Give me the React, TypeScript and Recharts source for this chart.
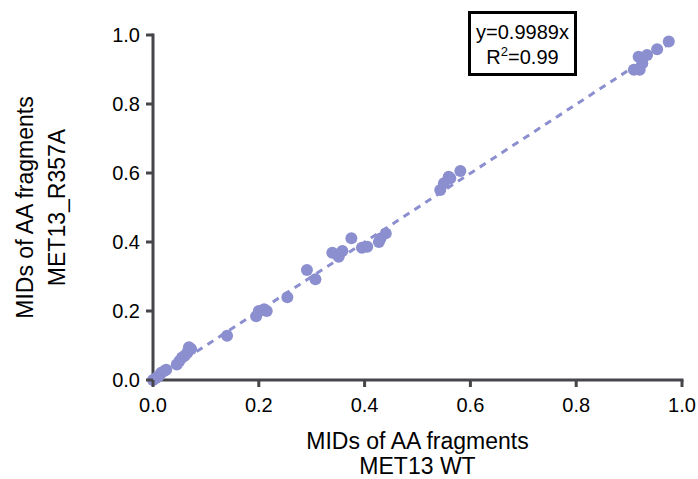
import React from 'react';
import { ScatterChart, Scatter, XAxis, YAxis, ReferenceLine } from 'recharts';

// MIDs for MET13 WT (x) vs MET13_R357A (y)
const wtMids = [
  0.0, 0.005, 0.01, 0.015, 0.02, 0.025, 0.045, 0.05, 0.055, 0.06, 0.065, 0.068, 0.072,
  0.14, 0.195, 0.2, 0.21, 0.215, 0.254, 0.291, 0.307, 0.339, 0.351, 0.358, 0.375,
  0.395, 0.405, 0.427, 0.43, 0.44, 0.543, 0.55, 0.559, 0.562, 0.581,
  0.909, 0.918, 0.92, 0.925, 0.934, 0.953, 0.975,
];
const r357aMids = [
  0.0, 0.005, 0.01, 0.02, 0.025, 0.03, 0.045, 0.055, 0.065, 0.07, 0.08, 0.095, 0.09,
  0.128, 0.185, 0.2, 0.205, 0.2, 0.24, 0.319, 0.292, 0.369, 0.357, 0.374, 0.411,
  0.383, 0.386, 0.4, 0.41, 0.425, 0.551, 0.57, 0.589, 0.585, 0.606,
  0.899, 0.937, 0.899, 0.918, 0.942, 0.959, 0.981,
];
const axisTicks = [0, 0.2, 0.4, 0.6, 0.8, 1.0];
const slope = 0.9989;
const rSquared = '0.99';
const fitEnd = 0.975;

const points = wtMids.map((x, i) => ({ x, y: r357aMids[i] }));

const color = '#8c8fcf';
const axisColor = '#46464a';
const font = 'Arial, "Liberation Sans", sans-serif';
const TICK = 7;
const X_GAP = 11;
const Y_GAP = 6;
const LW = 3;

const Dot = (props: any) => <circle cx={props.cx} cy={props.cy} r={6} fill={color} />;

// tick mark + label drawn together
const XTick = (props: any) => {
  const { x, y, payload } = props;
  const axisY = y - TICK - X_GAP;
  return (
    <g>
      <rect x={x - LW / 2} y={axisY} width={LW} height={TICK} fill={axisColor} />
      <text x={x} y={y} dy='0.71em' textAnchor='middle' fontFamily={font} fontSize={20} fill='#000'>
        {payload.value.toFixed(1)}
      </text>
    </g>
  );
};

const YTick = (props: any) => {
  const { x, y, payload } = props;
  const axisX = x + TICK + Y_GAP;
  return (
    <g>
      <rect x={axisX - TICK} y={y - LW / 2} width={TICK} height={LW} fill={axisColor} />
      <text x={x} y={y} dy='0.355em' textAnchor='end' fontFamily={font} fontSize={20} fill='#000'>
        {payload.value.toFixed(1)}
      </text>
    </g>
  );
};

// axis line + two-line title
const XTitle = (props: any) => {
  const { x, y, width } = props.viewBox;
  const cx = x + width / 2;
  return (
    <g>
      <rect x={x - LW / 2} y={y - LW / 2} width={width + LW} height={LW} fill={axisColor} />
      <text textAnchor='middle' fontFamily={font} fontSize={23} fill='#000'>
        <tspan x={cx} y={y + 69}>MIDs of AA fragments</tspan>
        <tspan x={cx} y={y + 94}>MET13  WT</tspan>
      </text>
    </g>
  );
};

const YTitle = (props: any) => {
  const { x, y, width, height } = props.viewBox;
  const cy = y + height / 2;
  return (
    <g>
      <rect x={x + width - LW / 2} y={y - LW / 2} width={LW} height={height + LW} fill={axisColor} />
      <g transform={`rotate(-90 0 ${cy})`}>
        <text textAnchor='middle' fontFamily={font} fontSize={23} fill='#000'>
          <tspan x={0} y={cy + 33}>MIDs of AA fragments</tspan>
          <tspan x={0} y={cy + 65}>MET13_R357A</tspan>
        </text>
      </g>
    </g>
  );
};

export default function App() {
  return (
    <div style={{ position: 'absolute', left: 0, top: 0, width: 698, height: 479 }}>
      <ScatterChart width={698} height={479} margin={{ top: 35, right: 16, left: 0, bottom: 0 }}>
        <XAxis
          type='number'
          dataKey='x'
          domain={[0, 1]}
          ticks={axisTicks}
          height={99}
          tick={<XTick />}
          tickSize={TICK}
          tickMargin={X_GAP}
          axisLine={false}
          tickLine={false}
          label={{ content: XTitle }}
        />
        <YAxis
          type='number'
          dataKey='y'
          domain={[0, 1]}
          ticks={axisTicks}
          width={153}
          tick={<YTick />}
          tickSize={TICK}
          tickMargin={Y_GAP}
          axisLine={false}
          tickLine={false}
          label={{ content: YTitle }}
        />
        <ReferenceLine
          segment={[{ x: 0, y: 0 }, { x: fitEnd, y: slope * fitEnd }]}
          stroke={color}
          strokeWidth={3}
          strokeDasharray='7 6'
        />
        <Scatter data={points} shape={<Dot />} isAnimationActive={false} />
      </ScatterChart>
      <div
        style={{
          position: 'absolute',
          left: 468,
          top: 11,
          width: 109,
          height: 65,
          boxSizing: 'border-box',
          border: '3px solid #000',
          background: '#fff',
          fontFamily: font,
          fontSize: 20,
          lineHeight: '25px',
          textAlign: 'center',
          paddingTop: 6,
        }}
      >
        <div>y={slope}x</div>
        <div>
          R<sup style={{ fontSize: 13, verticalAlign: 'top', lineHeight: '14px' }}>2</sup>={rSquared}
        </div>
      </div>
    </div>
  );
}
